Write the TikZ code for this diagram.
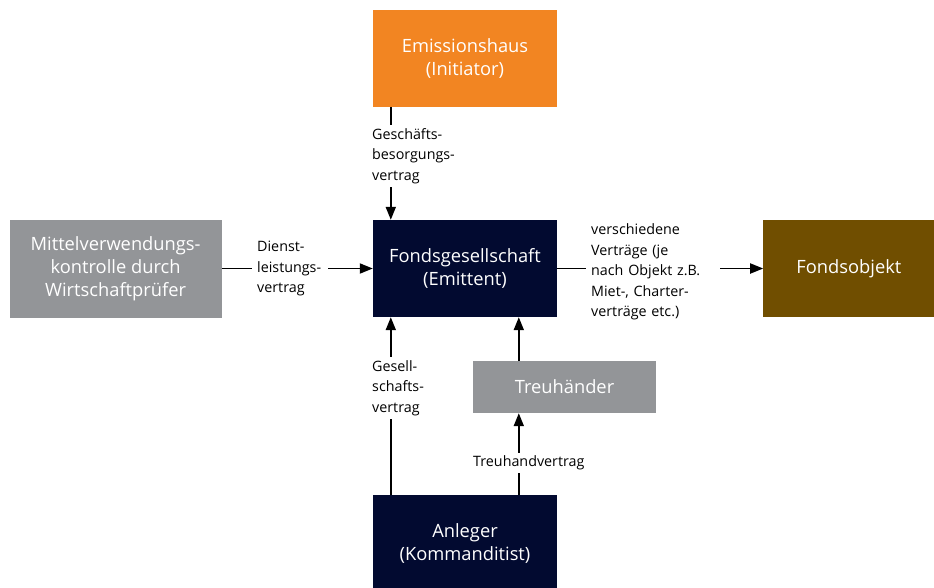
\documentclass[tikz,border=0pt]{standalone}
\usepackage{fontspec}
\setmainfont{Open Sans}
\usetikzlibrary{positioning, arrows.meta}
\definecolor{initorange}{RGB}{242,133,34}
\definecolor{fondsnavy}{RGB}{2,10,48}
\definecolor{kontrgray}{RGB}{147,149,152}
\definecolor{objbrown}{RGB}{112,78,0}
\tikzset{
    box/.style={rectangle, minimum width=184pt, minimum height=97pt, inner sep=0pt, text=white, align=center, font=\fontsize{18.3}{23}\selectfont},
    contract/.style={fill=white, align=left, anchor=west, inner xsep=5pt, inner ysep=3pt, font=\fontsize{14.3}{20.5}\selectfont},
    flow/.style={-{Triangle[length=13pt,width=10pt]}, line width=1.8pt} }

\begin{document}
\begin{tikzpicture}[x=1pt, y=-1pt, node distance=113pt]
    \useasboundingbox (0,0) rectangle (934,587);
    \node[box, fill=fondsnavy] (F) at (465,268.5) {Fondsgesellschaft\\(Emittent)};
    \node[box, fill=initorange, above=of F] (E) {Emissionshaus\\(Initiator)};
    \node[box, fill=kontrgray, minimum width=212pt, minimum height=98pt, left=151pt of F] (M) {Mittelverwendungs-\\kontrolle durch\\Wirtschaftprüfer};
    \node[box, fill=objbrown, minimum width=171pt, right=206pt of F] (O) {Fondsobjekt};
    \node[box, fill=fondsnavy, below=178pt of F] (A) {Anleger\\(Kommanditist)};
    \node[box, fill=kontrgray, minimum width=183pt, minimum height=52pt] (T) at (564.5,387) {Treuhänder};
    % ----
    \draw[flow] ([xshift=18pt]E.south west) -- ([xshift=18pt]F.north west);
    \draw[flow] (M) -- (F);
    \draw[flow] (F) -- (O);
    \draw[flow] ([xshift=18pt]A.north west) -- ([xshift=18pt]F.south west);
    \draw[flow] ([xshift=46pt]T.north west) -- ([xshift=46pt]T.north west |- F.south);
    \draw[flow] ([xshift=146pt]A.north west) -- ([xshift=146pt]A.north west |- T.south);
    % ----
    \node[contract] (gbv) at (367,156) {Geschäfts-\\besorgungs-\\vertrag};
    \node[contract, text width=66pt] (dlv) at (252,268.5) {Dienst-\\leistungs-\\vertrag};
    \node[contract, text width=124pt] (vv) at (586,272) {verschiedene\\Verträge (je\\nach Objekt z.B.\\Miet-, Charter-\\verträge etc.)};
    \node[contract] (gsv) at (367,388) {Gesell-\\schafts-\\vertrag};
    \node[contract] (thv) at (468,463) {Treuhandvertrag};
\end{tikzpicture}
\end{document}
